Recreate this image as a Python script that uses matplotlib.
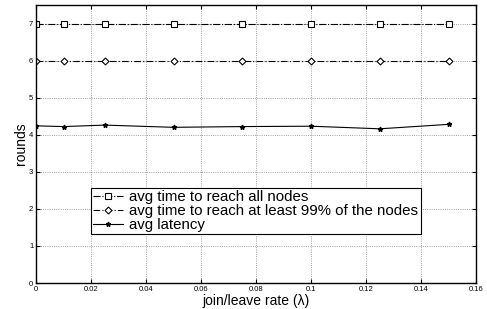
import numpy as np
import matplotlib
matplotlib.use("Agg")
import matplotlib.pyplot as plt

plt.rcParams['font.family'] = ['Liberation Sans', 'DejaVu Sans']

# data
rate = [0, 0.01, 0.025, 0.05, 0.075, 0.1, 0.125, 0.15]
t_all = [7, 7, 7, 7, 7, 7, 7, 7]
t_99 = [6, 6, 6, 6, 6, 6, 6, 6]
latency = [4.24, 4.22, 4.26, 4.20, 4.22, 4.23, 4.16, 4.28]

fig = plt.figure(figsize=(4.87, 3.09), dpi=100)
ax = fig.add_axes([36/487, 1 - 283/309, 440/487, 278/309])

ax.plot(rate, t_all, '-.', color='black', lw=0.8, marker='s', ms=4,
        mfc='white', mew=0.8, label="avg time to reach all nodes")
ax.plot(rate, t_99, '-.', color='black', lw=0.8, marker='D', ms=3.5,
        mfc='white', mew=0.8, dashes=(6, 2, 1, 2),
        label="avg time to reach at least 99% of the nodes")
ax.plot(rate, latency, '-', color='black', lw=0.8, marker='*', ms=3.5,
        label="avg latency")

ax.set_xlim(0, 0.16)
ax.set_ylim(0, 7.5)
ax.set_xticks(np.arange(0, 0.161, 0.02))
ax.set_xticklabels(['0', '0.02', '0.04', '0.06', '0.08', '0.1', '0.12', '0.14', '0.16'])
ax.set_yticks(range(0, 8))
ax.tick_params(direction='in', top=True, right=True, labelsize=5.5, length=3, pad=2)
ax.grid(True, linestyle=':', color='gray', lw=0.6)
for s in ax.spines.values():
    s.set_linewidth(1.0)

ax.set_xlabel("join/leave rate (λ)", fontsize=10, labelpad=1)
ax.set_ylabel("rounds", fontsize=10, labelpad=1)

leg = ax.legend(loc='lower left', bbox_to_anchor=(55/440, (283-234)/278),
                fontsize=10.8, fancybox=False, framealpha=1, edgecolor='black',
                borderpad=0.15, labelspacing=0.0, handlelength=2.0,
                handletextpad=0.4, borderaxespad=0)
leg.get_frame().set_linewidth(0.8)

fig.savefig("out.png", dpi=100)
